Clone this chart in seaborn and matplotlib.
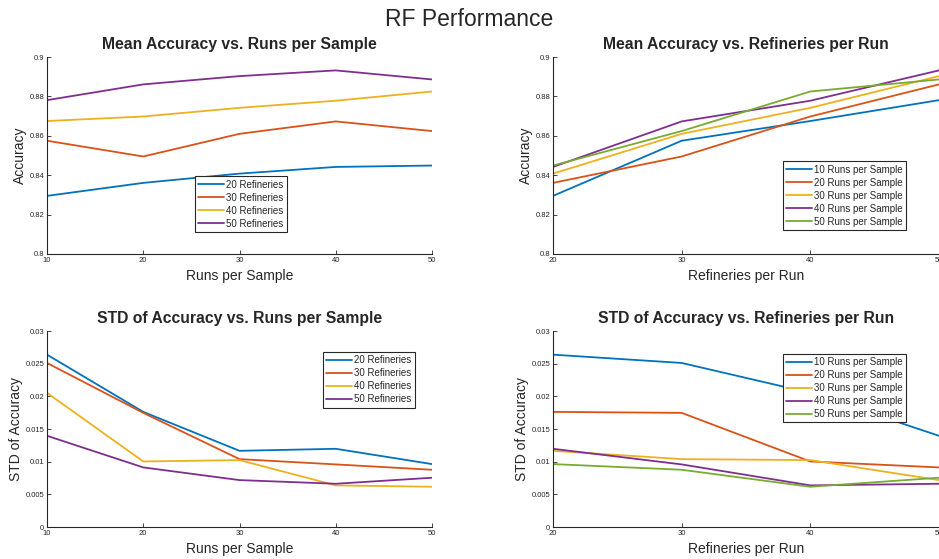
import numpy as np
import pandas as pd
import matplotlib
matplotlib.use("Agg")
import matplotlib.pyplot as plt
import seaborn as sns
from matplotlib.ticker import FuncFormatter

# ---- data ----
runs_per_sample = [10, 20, 30, 40, 50]
refineries = [20, 30, 40, 50]

# mean accuracy, one list per refinery count, indexed by runs per sample
mean_ref20 = [0.8295, 0.8361, 0.8408, 0.8442, 0.8449]
mean_ref30 = [0.8575, 0.8495, 0.8610, 0.8673, 0.8624]
mean_ref40 = [0.8675, 0.8698, 0.8742, 0.8778, 0.8825]
mean_ref50 = [0.8781, 0.8861, 0.8903, 0.8932, 0.8886]

# std of accuracy, one list per refinery count, indexed by runs per sample
std_ref20 = [0.02638, 0.01762, 0.01166, 0.01197, 0.00963]
std_ref30 = [0.02511, 0.01747, 0.01039, 0.00958, 0.00876]
std_ref40 = [0.02053, 0.01003, 0.01024, 0.00637, 0.00616]
std_ref50 = [0.01396, 0.00912, 0.00718, 0.00662, 0.00754]

mean_rows = [mean_ref20, mean_ref30, mean_ref40, mean_ref50]
std_rows = [std_ref20, std_ref30, std_ref40, std_ref50]

recs = []
for i, ref in enumerate(refineries):
    for j, r in enumerate(runs_per_sample):
        recs.append(dict(ref=ref, runs=r, mean=mean_rows[i][j], std=std_rows[i][j]))
df = pd.DataFrame(recs)
df["ref_label"] = df["ref"].astype(str) + " Refineries"
df["runs_label"] = df["runs"].astype(str) + " Runs per Sample"

matlab = ["#0072BD", "#D95319", "#EDB120", "#7E2F8E", "#77AC30"]

sns.set_style("ticks")
plt.rcParams["font.family"] = ["Liberation Sans", "DejaVu Sans"]

fig = plt.figure(figsize=(9.39, 5.59), dpi=100)
L1, W1 = 47 / 939, 385 / 939
L2, W2 = 553 / 939, 386 / 939
B1, H1 = 1 - 254 / 559, 197 / 559
B2, H2 = 1 - 527 / 559, 196 / 559
ax_tl = fig.add_axes([L1, B1, W1, H1])
ax_tr = fig.add_axes([L2, B1, W2, H1])
ax_bl = fig.add_axes([L1, B2, W1, H2])
ax_br = fig.add_axes([L2, B2, W2, H2])

ref_order = [f"{r} Refineries" for r in refineries]
runs_order = [f"{r} Runs per Sample" for r in runs_per_sample]

kw = dict(linewidth=1.3, errorbar=None, sort=True)
sns.lineplot(data=df, x="runs", y="mean", hue="ref_label", hue_order=ref_order,
             palette=matlab[:4], ax=ax_tl, **kw)
sns.lineplot(data=df, x="ref", y="mean", hue="runs_label", hue_order=runs_order,
             palette=matlab[:5], ax=ax_tr, **kw)
sns.lineplot(data=df, x="runs", y="std", hue="ref_label", hue_order=ref_order,
             palette=matlab[:4], ax=ax_bl, **kw)
sns.lineplot(data=df, x="ref", y="std", hue="runs_label", hue_order=runs_order,
             palette=matlab[:5], ax=ax_br, **kw)

fmt = FuncFormatter(lambda v, p: f"{v:g}")
settings = [
    (ax_tl, "Mean Accuracy vs. Runs per Sample", "Runs per Sample", "Accuracy",
     (10, 50), runs_per_sample, (0.8, 0.9), np.arange(0.8, 0.9001, 0.02),
     (0.384, 0.112), "lower left"),
    (ax_tr, "Mean Accuracy vs. Refineries per Run", "Refineries per Run", "Accuracy",
     (20, 50), refineries, (0.8, 0.9), np.arange(0.8, 0.9001, 0.02),
     (0.596, 0.122), "lower left"),
    (ax_bl, "STD of Accuracy vs. Runs per Sample", "Runs per Sample", "STD of Accuracy",
     (10, 50), runs_per_sample, (0, 0.03), np.arange(0, 0.03001, 0.005),
     (0.717, 0.893), "upper left"),
    (ax_br, "STD of Accuracy vs. Refineries per Run", "Refineries per Run", "STD of Accuracy",
     (20, 50), refineries, (0, 0.03), np.arange(0, 0.03001, 0.005),
     (0.596, 0.883), "upper left"),
]
for ax, title, xl, yl, xlim, xt, ylim, yt, anchor, loc in settings:
    ax.set_xlim(*xlim)
    ax.set_ylim(*ylim)
    ax.set_xticks(xt)
    ax.set_yticks(yt)
    ax.yaxis.set_major_formatter(fmt)
    ax.set_title(title, fontsize=11.3, fontweight="bold", pad=6)
    ax.set_xlabel(xl, fontsize=10, color="#262626", labelpad=4)
    ax.set_ylabel(yl, fontsize=10, color="#262626", labelpad=2)
    for s in ["top", "right"]:
        ax.spines[s].set_visible(False)
    for s in ["left", "bottom"]:
        ax.spines[s].set_color("#262626")
        ax.spines[s].set_linewidth(0.8)
    ax.tick_params(direction="in", length=3, width=0.6, labelsize=5.5,
                   colors="#262626", pad=2)
    leg = ax.legend(loc=loc, bbox_to_anchor=anchor, fontsize=7, frameon=True,
                    fancybox=False, edgecolor="#262626", framealpha=1,
                    handlelength=2.6, handletextpad=0.25, labelspacing=0.3,
                    borderpad=0.35, borderaxespad=0)
    leg.get_frame().set_linewidth(0.8)
    ax.set_facecolor("white")

fig.suptitle("RF Performance", fontsize=16.5, y=0.985)
fig.savefig("out.png", dpi=100, facecolor="white")
